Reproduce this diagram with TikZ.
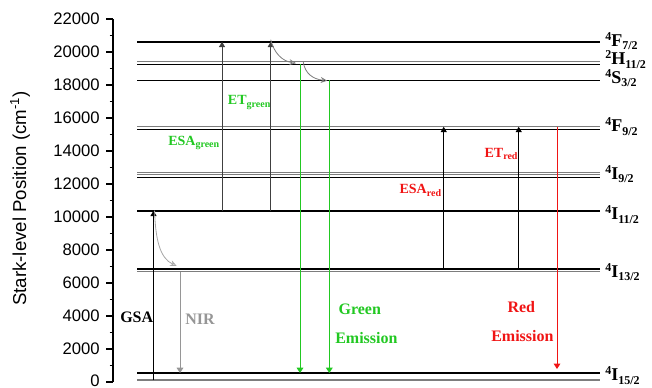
\documentclass[tikz,border=0pt]{standalone}
\usepackage{fontspec}
\setmainfont{Liberation Serif}
\setsansfont{Liberation Sans}
\usetikzlibrary{arrows.meta}
\definecolor{cgreen}{RGB}{34,200,34}
\definecolor{cred}{RGB}{240,20,20}
\definecolor{cline}{RGB}{125,125,125}
\definecolor{cnir}{RGB}{150,150,150}
\definecolor{ccurve}{RGB}{165,165,165}
\newcommand{\term}[3]{\raisebox{4.5pt}{\fontsize{9}{9}\selectfont #1}#2\raisebox{-2.5pt}{\fontsize{9}{9}\selectfont #3}}
\newcommand{\trans}[2]{#1\raisebox{-2pt}{\fontsize{7.5}{8}\selectfont #2}}

\begin{document}
\begin{tikzpicture}[x=0.75pt,y=12.375pt,
  lvl/.style={line width=0.8pt},
  lvlthick/.style={line width=1.7pt},
  lvlgrey/.style={line width=0.8pt,draw=cline},
  pump/.style={line width=0.75pt,-{Triangle[length=4pt,width=4.5pt]}},
  decay/.style={line width=0.6pt,draw=ccurve,-{Stealth[open,length=5pt,width=4.5pt]}},
  emit/.style={line width=0.75pt,-{Triangle[length=4pt,width=5pt]}},
  termlbl/.style={anchor=base west,inner sep=0pt,font=\fontsize{13.5}{16}\selectfont\bfseries},
  translbl/.style={anchor=base west,inner sep=0pt,font=\fontsize{10.5}{12}\selectfont\bfseries},
  bandlbl/.style={anchor=base west,inner sep=0pt,font=\fontsize{12}{14}\selectfont\bfseries},
  ticklbl/.style={anchor=east,inner sep=0pt,font=\sffamily\fontsize{12.5}{14}\selectfont}]
  \useasboundingbox (0,-0.3636) rectangle (652,23.1515);

  \draw[line width=0.8pt] (113,0) -- (113,22);
  \foreach \v in {2,4,...,22} {
    \draw[line width=0.8pt] (106,\v) -- (113,\v);
    \node[ticklbl] (tick\v) at (100,\v) {\v000};
  }
  \draw[line width=0.8pt] (106,0) -- (113,0);
  \node[ticklbl] (tick0) at (100,0.08) {0};
  \foreach \v in {1,3,...,21}
    \draw[line width=0.8pt] (109.5,\v) -- (113,\v);
  \node[rotate=90,font=\sffamily\fontsize{14}{16}\selectfont] (ytitle) at (20,11.12)
    {Stark-level Position (cm\textsuperscript{-1})};

  \coordinate (F72) at (137,20.62);
  \coordinate (H112a) at (137,19.42);
  \coordinate (H112b) at (137,19.27);
  \coordinate (S32) at (137,18.28);
  \coordinate (F92a) at (137,15.47);
  \coordinate (F92b) at (137,15.33);
  \coordinate (I92a) at (137,12.70);
  \coordinate (I92b) at (137,12.55);
  \coordinate (I92c) at (137,12.38);
  \coordinate (I112) at (137,10.38);
  \coordinate (I132a) at (137,6.85);
  \coordinate (I132b) at (137,6.68);
  \coordinate (I152a) at (137,0.545);
  \coordinate (I152b) at (137,0.12);

  \draw[lvlthick] (F72) -- ++(463,0);
  \draw[lvlgrey] (H112a) -- ++(463,0);
  \draw[lvl] (H112b) -- ++(463,0);
  \draw[lvl] (S32) -- ++(463,0);
  \draw[lvlgrey] (F92a) -- ++(463,0);
  \draw[lvl] (F92b) -- ++(463,0);
  \draw[lvlgrey] (I92a) -- ++(463,0);
  \draw[lvlgrey] (I92b) -- ++(463,0);
  \draw[lvl] (I92c) -- ++(463,0);
  \draw[lvlthick] (I112) -- ++(463,0);
  \draw[lvlthick] (I132a) -- ++(463,0);
  \draw[lvlgrey] (I132b) -- ++(463,0);
  \draw[lvlthick] (I152a) -- ++(463,0);
  \draw[lvlgrey] (I152b) -- ++(463,0);

  \node[termlbl] (tF72) at (605,20.36) {\term{4}{F}{7/2}};
  \node[termlbl] (tH112) at (605,19.23) {\term{2}{H}{11/2}};
  \node[termlbl] (tS32) at (605,18.12) {\term{4}{S}{3/2}};
  \node[termlbl] (tF92) at (605,15.17) {\term{4}{F}{9/2}};
  \node[termlbl] (tI92) at (605,12.30) {\term{4}{I}{9/2}};
  \node[termlbl] (tI112) at (605,9.82) {\term{4}{I}{11/2}};
  \node[termlbl] (tI132) at (605,6.36) {\term{4}{I}{13/2}};
  \node[termlbl] (tI152) at (605,0.08) {\term{4}{I}{15/2}};

  \coordinate (cGSA) at (153.5,0);
  \coordinate (cNIR) at (180,0);
  \coordinate (cESAg) at (222,0);
  \coordinate (cETg) at (270.7,0);
  \coordinate (cGa) at (300,0);
  \coordinate (cGb) at (329.3,0);
  \coordinate (cESAr) at (443.7,0);
  \coordinate (cETr) at (518.7,0);
  \coordinate (cRed) at (557,0);
  \coordinate (nirend) at (176.7,7.03);
  \coordinate (hend) at (296,19.32);
  \coordinate (sstart) at (303.3,19.38);
  \coordinate (send) at (327.3,18.26);
  \coordinate (redend) at (557,0.79);

  \draw[pump] (cGSA |- I152b) -- (cGSA |- I112);
  \draw[decay] ([xshift=0.8pt]cGSA |- I112) .. controls (155.5,8.6) and (160,7.5) .. (nirend);
  \draw[emit,draw=cnir] (cNIR |- I132b) -- (cNIR |- I152a);
  \draw[pump,draw=black!75] (cESAg |- I112) -- (cESAg |- F72);
  \draw[pump,draw=black!75] (cETg |- I112) -- (cETg |- F72);
  \draw[decay,draw=cline] ([yshift=1.5pt]cETg |- F72) .. controls (274,19.95) and (282,19.45) .. (hend);
  \draw[decay,draw=cline] (sstart) .. controls (305,18.7) and (313,18.35) .. (send);
  \draw[emit,draw=cgreen] (cGa |- H112b) -- (cGa |- I152a);
  \draw[emit,draw=cgreen] (cGb |- S32) -- (cGb |- I152a);
  \draw[pump] (cESAr |- I132a) -- (cESAr |- F92a);
  \draw[pump] (cETr |- I132a) -- (cETr |- F92a);
  \draw[emit,draw=cred] (cRed |- F92a) -- (redend);

  \node[bandlbl] (gsa) at (120,3.59) {GSA};
  \node[bandlbl,text=cnir] (nir) at (185,3.47) {NIR};
  \node[translbl,text=cgreen] (esag) at (168,14.36) {\trans{ESA}{green}};
  \node[translbl,text=cgreen] (etg) at (227.7,16.79) {\trans{ET}{green}};
  \node[translbl,text=cred] (esar) at (399.3,11.43) {\trans{ESA}{red}};
  \node[translbl,text=cred] (etr) at (484.3,13.62) {\trans{ET}{red}};
  \node[bandlbl,text=cgreen] (greenA) at (338.3,4.10) {Green};
  \node[bandlbl,text=cgreen] (greenB) at (335,2.345) {Emission};
  \node[bandlbl,text=cred] (redA) at (507.3,4.24) {Red};
  \node[bandlbl,text=cred] (redB) at (491,2.44) {Emission};
\end{tikzpicture}
\end{document}
